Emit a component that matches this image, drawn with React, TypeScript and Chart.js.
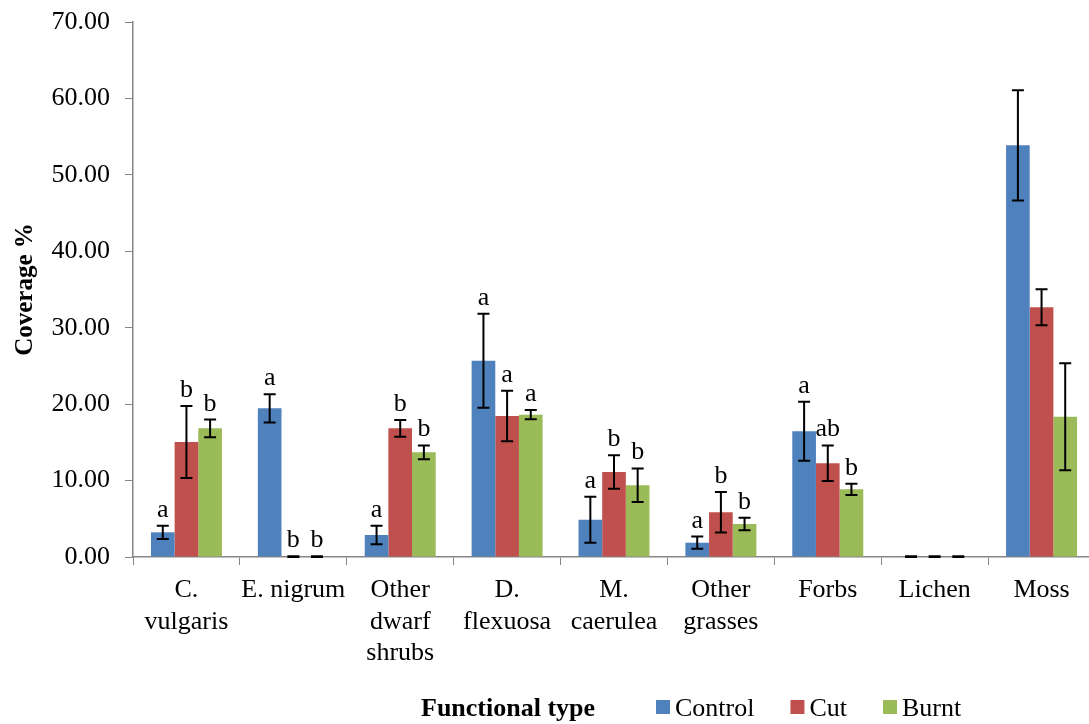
import React, { useEffect, useRef } from "react";
import { Chart, registerables } from "chart.js";

Chart.register(...registerables);

const SERIF = '"Liberation Serif", "Times New Roman", Times, serif';

// Functional types on the x axis (multi-line labels)
const categories: string[][] = [
  ["C.", "vulgaris"],
  ["E. nigrum"],
  ["Other", "dwarf", "shrubs"],
  ["D.", "flexuosa"],
  ["M.", "caerulea"],
  ["Other", "grasses"],
  ["Forbs"],
  ["Lichen"],
  ["Moss"],
];

const seriesNames = ["Control", "Cut", "Burnt"];
const seriesColors = ["#4F81BD", "#C0504D", "#9BBB59"];

// Mean coverage (%) per treatment
const controlValues = [3.23, 19.45, 2.88, 25.69, 4.88, 1.87, 16.44, 0.05, 53.86];
const cutValues = [15.05, 0.05, 16.83, 18.45, 11.12, 5.85, 12.26, 0.05, 32.67];
const burntValues = [16.83, 0.05, 13.7, 18.62, 9.38, 4.32, 8.85, 0.05, 18.36];

// Standard errors
const controlErrors = [0.87, 1.85, 1.2, 6.15, 3.0, 0.8, 3.86, 0.05, 7.2];
const cutErrors = [4.7, 0.05, 1.1, 3.3, 2.2, 2.65, 2.33, 0.05, 2.35];
const burntErrors = [1.15, 0.05, 0.9, 0.6, 2.2, 0.83, 0.75, 0.05, 7.0];

// Significance letters
const controlLetters = ["a", "a", "a", "a", "a", "a", "a", "", ""];
const cutLetters = ["b", "b", "b", "a", "b", "b", "ab", "", ""];
const burntLetters = ["b", "b", "b", "a", "b", "b", "b", "", ""];

const yMin = 0;
const yMax = 70;
const yStep = 10;

const yTitle = "Coverage %";
const xTitle = "Functional type";

const errorBarPlugin = {
  id: "errorBars",
  afterDatasetsDraw(chart: any) {
    const { ctx } = chart;
    const y = chart.scales.y;
    ctx.save();
    chart.data.datasets.forEach((ds: any, i: number) => {
      const meta = chart.getDatasetMeta(i);
      meta.data.forEach((bar: any, j: number) => {
        const v = ds.data[j];
        const e = ds.errors[j];
        const yt = y.getPixelForValue(v + e);
        const yb = y.getPixelForValue(Math.max(v - e, 0));
        const x = bar.x;
        ctx.strokeStyle = "#000";
        ctx.lineWidth = 2;
        ctx.beginPath();
        ctx.moveTo(x, yt);
        ctx.lineTo(x, yb);
        ctx.moveTo(x - 6, yt);
        ctx.lineTo(x + 6, yt);
        ctx.moveTo(x - 6, yb);
        ctx.lineTo(x + 6, yb);
        ctx.stroke();
        const letter = ds.letters[j];
        if (letter) {
          ctx.fillStyle = "#000";
          ctx.font = `26px ${SERIF}`;
          ctx.textAlign = "center";
          ctx.textBaseline = "alphabetic";
          ctx.fillText(letter, x, yt - 9);
        }
      });
    });
    ctx.restore();
  },
};

const bottomLegendPlugin = {
  id: "bottomLegend",
  afterDraw(chart: any) {
    const { ctx } = chart;
    const baseline = 716;
    ctx.save();
    ctx.fillStyle = "#000";
    ctx.textBaseline = "alphabetic";
    ctx.textAlign = "left";
    ctx.font = `bold 26px ${SERIF}`;
    ctx.fillText(xTitle, 421, baseline);

    ctx.font = `26px ${SERIF}`;
    let x = 656;
    chart.data.datasets.forEach((ds: any) => {
      ctx.fillStyle = ds.backgroundColor;
      ctx.fillRect(x, 700, 14, 14);
      ctx.fillStyle = "#000";
      ctx.fillText(ds.label, x + 19, baseline);
      x += 19 + ctx.measureText(ds.label).width + 36;
    });
    ctx.restore();
  },
};

export default function App() {
  const canvasRef = useRef<HTMLCanvasElement | null>(null);

  useEffect(() => {
    document.body.style.margin = "0";
    document.body.style.overflow = "hidden";
    const canvas = canvasRef.current;
    if (!canvas) return;
    const values = [controlValues, cutValues, burntValues];
    const errors = [controlErrors, cutErrors, burntErrors];
    const letters = [controlLetters, cutLetters, burntLetters];

    const chart = new Chart(canvas, {
      type: "bar",
      data: {
        labels: categories as any,
        datasets: seriesNames.map((name, i) => ({
          label: name,
          data: values[i],
          errors: errors[i],
          letters: letters[i],
          backgroundColor: seriesColors[i],
          borderWidth: 0,
          categoryPercentage: 0.664,
          barPercentage: 1.0,
        })) as any,
      },
      options: {
        responsive: false,
        animation: false,
        layout: { padding: { top: 22, right: 5, left: 0, bottom: 0 } },
        plugins: {
          legend: { display: false },
          tooltip: { enabled: false },
        },
        scales: {
          x: {
            grid: {
              display: true,
              drawOnChartArea: false,
              drawTicks: true,
              tickLength: 8,
              color: "#868686",
              offset: true,
            },
            border: { display: true, color: "#868686", width: 1.5 },
            ticks: {
              color: "#000",
              font: { family: SERIF, size: 26, lineHeight: 1.2 },
              maxRotation: 0,
              minRotation: 0,
              autoSkip: false,
              padding: 10,
            },
            afterFit: (s: any) => {
              s.height = 167;
              s.paddingLeft = 0;
              s.paddingRight = 0;
            },
          },
          y: {
            min: yMin,
            max: yMax,
            grid: {
              display: true,
              drawOnChartArea: false,
              drawTicks: true,
              tickLength: 8,
              color: "#868686",
            },
            border: { display: true, color: "#868686", width: 1.5 },
            ticks: {
              stepSize: yStep,
              color: "#000",
              font: { family: SERIF, size: 26 },
              padding: 15,
              callback: (v: any) => Number(v).toFixed(2),
            },
            title: {
              display: true,
              text: yTitle,
              color: "#000",
              font: { family: SERIF, size: 25, weight: "bold", lineHeight: 1.2 },
              padding: { top: 11, bottom: 0 },
            },
            afterFit: (s: any) => {
              s.width = 133;
              s.paddingTop = 0;
              s.paddingBottom = 0;
            },
          },
        },
      },
      plugins: [errorBarPlugin, bottomLegendPlugin],
    });
    return () => chart.destroy();
  }, []);

  return (
    <div
      style={{
        position: "fixed",
        left: 0,
        top: 0,
        width: 1089,
        height: 724,
        overflow: "hidden",
        background: "#fff",
      }}
    >
      <canvas ref={canvasRef} width={1100} height={724} style={{ width: 1100, height: 724, display: "block" }} />
    </div>
  );
}
